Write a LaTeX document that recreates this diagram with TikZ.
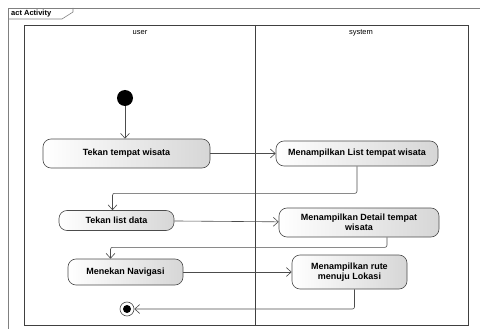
\documentclass[tikz,border=0pt]{standalone}
\usepackage{fontspec}
\setmainfont{Liberation Sans}
\usetikzlibrary{arrows.meta, positioning}

\begin{document}
\begin{tikzpicture}[x=1pt, y=-1pt,
    accion/.style={draw=black!70, semithick, rounded corners=8pt, left color=white, right color=black!16,
        font=\fontsize{9}{10}\selectfont\bfseries, align=center, inner sep=2pt},
    flecha/.style={draw=black!70, semithick, -{Straight Barb[length=5pt, width=9pt]}, rounded corners=2pt},
    carril/.style={font=\fontsize{7.5}{8}\selectfont}]
    \useasboundingbox (0,0) rectangle (480,329);
    \clip (0,0) rectangle (480,329);

    % Marco y carriles
    \draw[black!50, semithick] (8,8) rectangle (490,340);
    \draw[black!50, semithick] (8,19) -- (62,19) -- (73,12) -- (73,8);
    \node[font=\fontsize{7.5}{8}\selectfont\bfseries, anchor=west, inner sep=0] (marco) at (11,14) {act Activity};
    \draw[black!75, thick] (24,25) rectangle (468,325);
    \draw[black!75, thick] (255,25) -- (255,325);
    \node[carril] (user) at (140,33) {user};
    \node[carril] (system) at (361,33) {system};

    % Nodos
    \node[circle, fill=black, minimum size=16pt, inner sep=0] (inicio) at (125,98) {};
    \node[accion, minimum width=167, minimum height=29] (tekan) at (126.5,153.5) {Tekan tempat wisata};
    \node[accion, minimum width=162, minimum height=25] (lista) at (357,153.5) {Menampilkan List tempat wisata};
    \node[accion, minimum width=115, minimum height=20] (data) at (116.5,220.5) {Tekan list data};
    \node[accion, minimum width=160, minimum height=29] (detail) at (359,222.5) {Menampilkan Detail tempat\\wisata};
    \node[accion, minimum width=115, minimum height=26] (navi) at (125.5,272) {Menekan Navigasi};
    \node[accion, minimum width=115, minimum height=34] (rute) at (349.5,272) {Menampilkan rute\\menuju Lokasi};
    \node[circle, draw=black!70, semithick, fill=white, minimum size=14pt, inner sep=0] (fin) at (127,309) {};
    \fill[black] (fin) circle (4);

    % Transiciones
    \draw[flecha] (inicio) -- (inicio |- tekan.north);
    \draw[flecha] (tekan) -- (lista);
    \draw[flecha] (lista.south) -- ++(0,27) -| ([xshift=-4pt]data.north);
    \draw[flecha] (data) -- (detail);
    \draw[flecha] ([xshift=28pt]detail.south) -- ++(0,10) -| ([xshift=-15pt]navi.north);
    \draw[flecha] (navi) -- (rute);
    \draw[flecha] ([xshift=5pt]rute.south) |- (fin);
\end{tikzpicture}
\end{document}
